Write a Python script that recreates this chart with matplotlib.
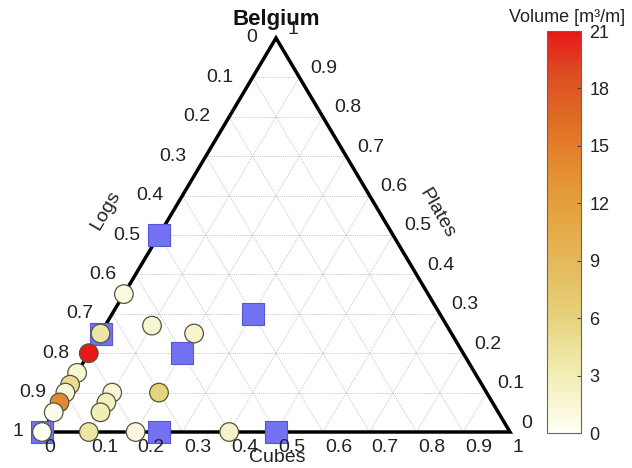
import numpy as np
import matplotlib
matplotlib.use("Agg")
import matplotlib.pyplot as plt
from matplotlib.colors import LinearSegmentedColormap, Normalize

plt.rcParams['font.family'] = ['Liberation Sans', 'DejaVu Sans']

# ---------------- data ----------------
title = "Belgium"
axis_names = ["Cubes", "Logs", "Plates"]
tick_values = [0, 0.1, 0.2, 0.3, 0.4, 0.5, 0.6, 0.7, 0.8, 0.9, 1]

# measured samples (fractions) and volume [m3/m]
circ_cubes  = [0.00, 0.00, 0.00, 0.00, 0.00, 0.00, 0.00, 0.00, 0.00, 0.10, 0.20, 0.40, 0.10, 0.20, 0.20, 0.10, 0.10, 0.10]
circ_plates = [0.35, 0.25, 0.20, 0.15, 0.12, 0.10, 0.075, 0.05, 0.00, 0.00, 0.00, 0.00, 0.27, 0.25, 0.10, 0.10, 0.075, 0.05]
circ_volume = [1.0, 4.0, 21.0, 1.5, 5.0, 1.5, 14.0, 0.5, 0.3, 4.0, 1.0, 2.0, 1.5, 2.0, 6.0, 1.5, 2.5, 3.0]

# reference compositions (blue squares)
sq_cubes  = [0.00, 0.00, 0.30, 0.20, 0.00, 0.25, 0.50]
sq_plates = [0.50, 0.25, 0.30, 0.20, 0.00, 0.00, 0.00]

cbar_label = "Volume [m³/m]"
cbar_ticks = [0, 3, 6, 9, 12, 15, 18, 21]
vmin, vmax = 0, 21

# ---------------- figure ----------------
W, H = 632, 468
fig = plt.figure(figsize=(W / 100, H / 100), dpi=100)
X0, XR, Y0, YT = 42, 510, 432, 38  # pixel frame of triangle
sx = XR - X0
sy = Y0 - YT
ax = fig.add_axes([0, 0, 1, 1])
ax.set_xlim(-X0 / sx, (W - X0) / sx)
ax.set_ylim(-(H - Y0) / sy, Y0 / sy)
ax.axis('off')


def tern(c, p):
    c = np.asarray(c, float)
    p = np.asarray(p, float)
    return c + p / 2, p


# grid
gkw = dict(color='#b4b4b4', lw=0.6, ls=(0, (1, 1.3)), zorder=1)
for v in tick_values[1:-1]:
    # constant plates
    x1, y1 = tern(0, v); x2, y2 = tern(1 - v, v)
    ax.plot([x1, x2], [y1, y2], **gkw)
    # constant cubes
    x1, y1 = tern(v, 0); x2, y2 = tern(v, 1 - v)
    ax.plot([x1, x2], [y1, y2], **gkw)
    # constant logs
    x1, y1 = tern(1 - v, 0); x2, y2 = tern(0, 1 - v)
    ax.plot([x1, x2], [y1, y2], **gkw)

# outline
ox, oy = tern([0, 1, 0, 0], [0, 0, 1, 0])
ax.plot(ox, oy, color='black', lw=2.5, zorder=2, solid_joinstyle='miter')

# squares
qx, qy = tern(sq_cubes, sq_plates)
ax.scatter(qx, qy, marker='s', s=245, c='#7272f2', edgecolors='#5555d8',
           linewidths=0.8, zorder=3)

# colormap
cmap = LinearSegmentedColormap.from_list('vol', [
    (0.00, '#fffff4'), (0.15, '#f0edb2'), (0.30, '#e5d078'),
    (0.45, '#e5b453'), (0.60, '#e59a38'), (0.75, '#e17526'),
    (0.90, '#dc4b22'), (1.00, '#e81818')])
norm = Normalize(vmin=vmin, vmax=vmax)

cx, cy = tern(circ_cubes, circ_plates)
sc = ax.scatter(cx, cy, s=180, c=circ_volume, cmap=cmap, norm=norm,
                edgecolors='#55553f', linewidths=0.9, zorder=4)

# tick labels
fs = 14
for v in tick_values:
    lab = f"{v:g}"
    # Logs (left edge)
    x, y = tern(0, 1 - v)
    ax.annotate(lab, (x, y), xytext=(-19, 0), textcoords='offset pixels',
                ha='right', va='center', fontsize=fs, color='#222222')
    # Plates (right edge)
    x, y = tern(1 - v, v)
    ax.annotate(lab, (x, y), xytext=(11, 9), textcoords='offset pixels',
                ha='left', va='center', fontsize=fs, color='#222222')
    # Cubes (bottom)
    x, y = tern(v, 0)
    ax.annotate(lab, (x, y), xytext=(2, -16), textcoords='offset pixels',
                ha='left', va='center', fontsize=fs, color='#222222')


def pxy(xp, yp):
    return (xp - X0) / sx, (Y0 - yp) / sy


ax.text(*pxy(276, 20), title, ha='center', va='center', fontsize=16,
        fontweight='bold', color='#111111')
ax.text(*pxy(106, 210), axis_names[1], ha='center', va='center', fontsize=fs,
        rotation=60, color='#222222')
ax.text(*pxy(437, 213), axis_names[2], ha='center', va='center', fontsize=fs,
        rotation=-60, color='#222222')
ax.text(*pxy(277, 457), axis_names[0], ha='center', va='center', fontsize=fs,
        color='#222222')

# colorbar
cax = fig.add_axes([547 / W, (H - 433) / H, 34 / W, 402 / H])
cb = fig.colorbar(sc, cax=cax, ticks=cbar_ticks)
cb.outline.set_edgecolor('#666666')
cb.outline.set_linewidth(0.8)
cax.tick_params(direction='in', length=3, width=0.8, colors='#444444',
                labelsize=13, labelcolor='#222222', pad=6)
fig.text(567 / W, 1 - 17 / H, cbar_label, ha='center', va='center',
         fontsize=13, color='#222222')

fig.savefig('out.png', dpi=100)
